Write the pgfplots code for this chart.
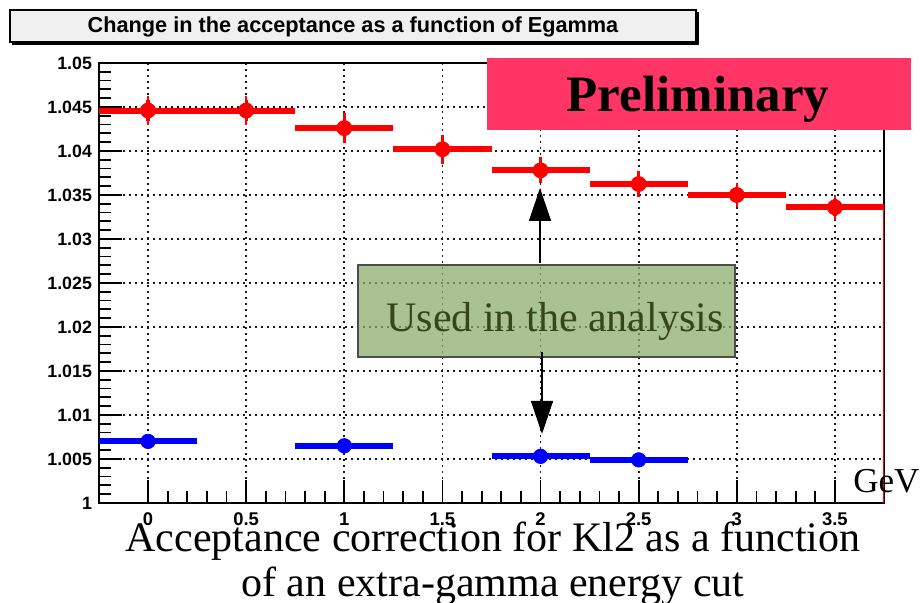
\documentclass[border=0pt]{standalone}
\usepackage{fontspec}
\usepackage{pgfplots}
\usepackage{pgfplotstable}
\pgfplotsset{compat=1.18}
\usetikzlibrary{arrows.meta}
\newfontfamily\arial{Liberation Sans}
\newfontfamily\tms{Liberation Serif}
\definecolor{prelim}{RGB}{255,53,102}
\definecolor{usedbox}{RGB}{141,172,109}
\definecolor{usedtext}{RGB}{52,70,26}
\definecolor{titlebg}{RGB}{240,240,240}

\pgfplotstableread{
x   y       ex    ey
0   1.0446  0.25  0.00124
0.5 1.0446  0.25  0.00124
1   1.0426  0.25  0.00124
1.5 1.0402  0.25  0.00120
2   1.0378  0.25  0.00103
2.5 1.03625 0.25  0.00100
3   1.0350  0.25  0.00095
3.5 1.0336  0.25  0.00095
}\redtab

\pgfplotstableread{
x   y       ex    ey
0   1.0070  0.25  0.0004
1   1.0065  0.25  0.0004
2   1.0053  0.25  0.0004
2.5 1.0049  0.25  0.0004
}\bluetab

\begin{document}
\begin{tikzpicture}
\path[use as bounding box] (0,0) rectangle (461.5pt,301.5pt);
\begin{axis}[
  at={(49.5pt,50pt)}, anchor=south west,
  scale only axis, width=392.5pt, height=220pt,
  xmin=-0.25, xmax=3.75, ymin=1, ymax=1.05,
  xtick={0,0.5,1,1.5,2,2.5,3,3.5},
  xticklabels={0,0.5,1,1.5,2,2.5,3,3.5},
  ytick={1,1.005,1.01,1.015,1.02,1.025,1.03,1.035,1.04,1.045,1.05},
  yticklabels={1,1.005,1.01,1.015,1.02,1.025,1.03,1.035,1.04,1.045,1.05},
  minor x tick num=4, minor y tick num=4,
  tick pos=left, tick align=inside,
  major tick length=11.5pt, minor tick length=5.8pt,
  axis line style={line width=1pt},
  tick style={black, line width=0.9pt},
  grid=major,
  major grid style={black!90, line width=0.9pt, dash pattern=on 0.8pt off 2.2pt},
  yticklabel style={font=\arial\bfseries\fontsize{8.9}{9}\selectfont},
  xticklabel style={font=\arial\bfseries\fontsize{9.2}{9}\selectfont, yshift=-1.2pt},
]
% red horizontal bin bars
\addplot[red, only marks, mark=none,
  error bars/.cd, x dir=both, x explicit, error mark=none,
  error bar style={red, line width=3pt}]
  table[x=x, y=y, x error=ex] {\redtab};
% red points with y errors
\addplot[red, only marks, mark=*, mark size=3.75pt,
  error bars/.cd, y dir=both, y explicit,
  error bar style={red, line width=1.6pt},
  error mark options={red, line width=1.2pt, mark size=2pt}]
  table[x=x, y=y, y error=ey] {\redtab};
\addplot[red, line width=1pt] coordinates {(3.75,1.0336) (3.75,1)};
% blue
\addplot[blue, only marks, mark=none,
  error bars/.cd, x dir=both, x explicit, error mark=none,
  error bar style={blue, line width=3pt}]
  table[x=x, y=y, x error=ex] {\bluetab};
\addplot[blue, only marks, mark=*, mark size=3.6pt,
  error bars/.cd, y dir=both, y explicit,
  error bar style={blue, line width=1.6pt}, error mark=none]
  table[x=x, y=y, y error=ey] {\bluetab};
\end{axis}

\begin{scope}[x=0.5pt, y=-0.5pt, yshift=301.5pt]
  % title box
  \fill[black] (12,12) rectangle (699,45);
  \draw[fill=titlebg, line width=0.6pt] (10,10) rectangle (696,42);
  \node[font=\arial\bfseries\fontsize{10.85}{12}\selectfont, anchor=base] at (353,33) {Change in the acceptance as a function of Egamma};
  % preliminary
  \fill[prelim] (487,58) rectangle (911,130);
  \node[font=\tms\bfseries\fontsize{25.5}{28}\selectfont, anchor=base] at (698,112) {Preliminary};
  % used box
  \draw[fill=usedbox, fill opacity=0.75, draw=black!70, line width=0.6pt] (358,265) rectangle (735,357);
  \node[font=\tms\fontsize{21}{24}\selectfont, text=usedtext, anchor=base] at (555,332) {Used in the analysis};
  % arrows
  \draw[-{Triangle[width=11pt,length=16.5pt]}, line width=0.7pt] (540,263) -- (540,188);
  \draw[-{Triangle[width=11pt,length=16.5pt]}, line width=0.7pt] (542,352) -- (542,434);
  % GeV
  \node[font=\tms\fontsize{17.5}{20}\selectfont, anchor=base west, inner sep=0pt] at (853,493) {GeV};
  % caption
  \node[font=\tms\fontsize{21}{24}\selectfont, anchor=base, inner sep=0pt] at (493,552) {Acceptance correction for Kl2 as a function};
  \node[font=\tms\fontsize{21}{24}\selectfont, anchor=base, inner sep=0pt] at (493,597) {of an extra-gamma energy cut};
\end{scope}
\end{tikzpicture}
\end{document}
